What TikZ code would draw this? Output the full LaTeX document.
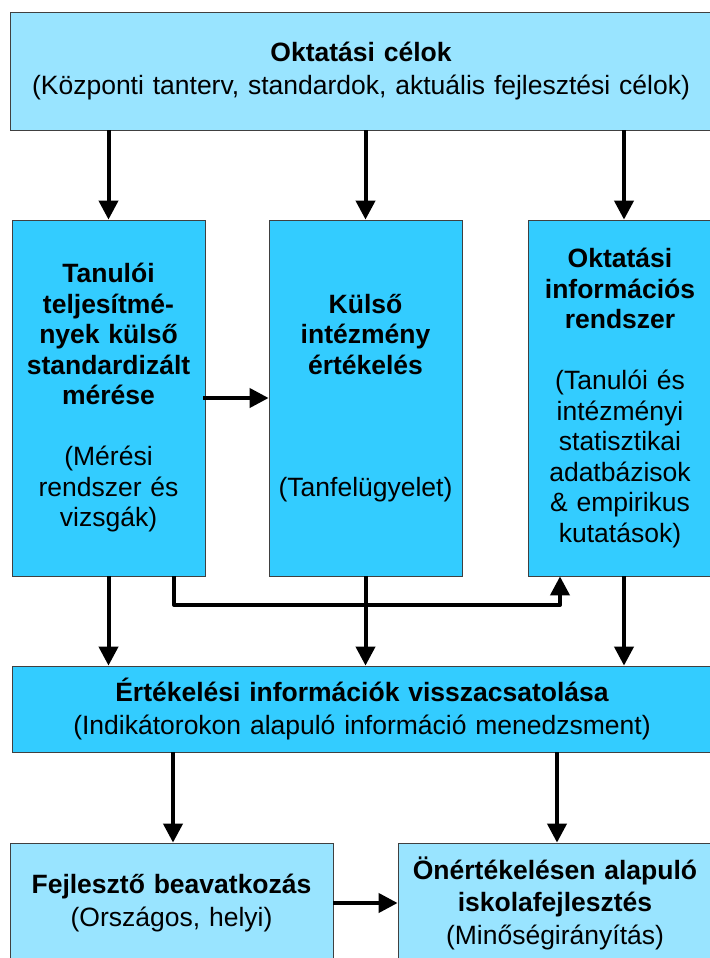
\documentclass[tikz,border=0pt]{standalone}
\usepackage{fontspec}
\setmainfont{Liberation Sans}
\usetikzlibrary{arrows.meta,calc}
\definecolor{paleblue}{RGB}{153,228,255}
\definecolor{skyblue}{RGB}{51,204,255}
\tikzset{
  box/.style={draw=black!75, line width=0.8bp, align=center, inner sep=0pt,
    font=\fontsize{26.5bp}{32.5bp}\selectfont},
  pale/.style={box, fill=paleblue},
  deep/.style={box, fill=skyblue},
  colbox/.style={deep, minimum height=356bp, font=\fontsize{26.5bp}{30.5bp}\selectfont},
  flow/.style={line width=4bp, line join=round, -{Triangle[width=19bp,length=19bp]}},
}
\begin{document}
\begin{tikzpicture}[x=1bp,y=-1bp]
\useasboundingbox (0,0) rectangle (710,958);

% goals
\node[pale, minimum width=702bp, minimum height=118bp, text width=690bp] (goals) at (361,71)
  {{\bfseries Oktatási célok}\\(Központi tanterv, standardok, aktuális fejlesztési célok)};

% three evaluation pillars
\node[colbox, minimum width=193bp, text width=185bp] (c1) at (108.5,398)
  {{\bfseries Tanulói\\teljesítmé-\\nyek külső\\standardizált\\mérése}\\[30.5bp]
   (Mérési\\rendszer és\\vizsgák)};
\node[colbox, minimum width=193bp, text width=185bp] (c2) at (365.5,398)
  {{\bfseries Külső\\intézmény\\értékelés}\\[91.5bp](Tanfelügyelet)};
\node[colbox, minimum width=184bp, text width=176bp] (c3) at (620,398)
  {{\bfseries Oktatási\\információs\\rendszer}\\[30.5bp]
   (Tanulói és\\intézményi\\statisztikai\\adatbázisok\\\& empirikus\\kutatások)};

% feedback
\node[deep, minimum width=700bp, minimum height=86bp, text width=690bp] (fb) at (362,709)
  {{\bfseries Értékelési információk visszacsatolása}\\(Indikátorokon alapuló információ menedzsment)};

% development
\node[pale, minimum width=323bp, minimum height=120bp, text width=315bp] (b1) at (171.5,903)
  {{\bfseries Fejlesztő beavatkozás}\\(Országos, helyi)};
\node[pale, minimum width=314bp, minimum height=120bp, text width=306bp] (b2) at (555,903)
  {{\bfseries Önértékelésen alapuló\\iskolafejlesztés}\\(Minőségirányítás)};

% connector columns
\coordinate (a3) at (624,0);
\coordinate (r1) at (174,0);
\coordinate (bend) at (560,605);
\coordinate (d1) at (173,0);
\coordinate (d2) at (557,0);

\draw[flow] (goals.south -| c1) -- (c1.north);
\draw[flow] (goals.south -| c2) -- (c2.north);
\draw[flow] (goals.south -| a3) -- (c3.north -| a3);

\draw[flow] ([xshift=-2bp]c1.east) -- (c2.west);

\draw[flow] (c1.south) -- (fb.north -| c1);
\draw[flow] (c2.south) -- (fb.north -| c2);
\draw[flow] (c3.south -| a3) -- (fb.north -| a3);
\draw[flow] (c1.south -| r1) |- (bend) -- (c3.south -| bend);

\draw[flow] (fb.south -| d1) -- (b1.north -| d1);
\draw[flow] (fb.south -| d2) -- (b2.north -| d2);
\draw[flow] (b1.east) -- (b2.west);
\end{tikzpicture}
\end{document}
